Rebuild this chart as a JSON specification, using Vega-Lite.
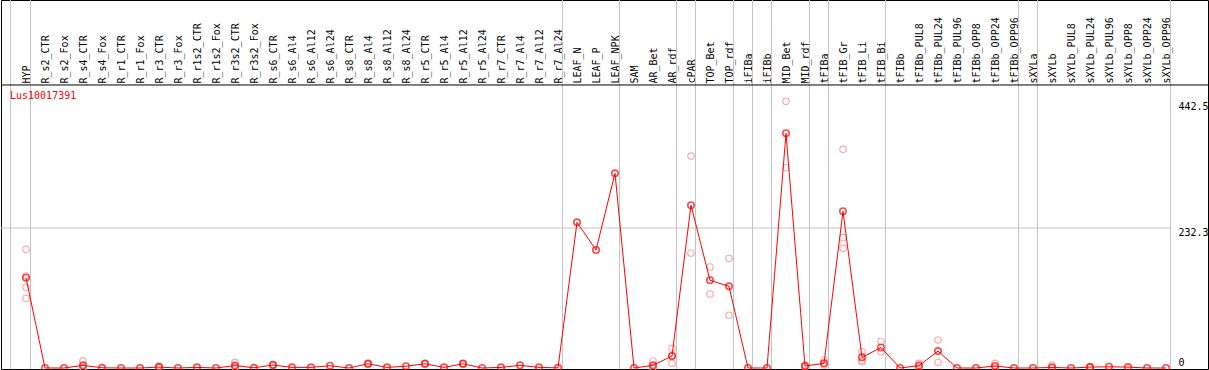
{
  "$schema": "https://vega.github.io/schema/vega-lite/v6.json",
  "width": 1207,
  "height": 369,
  "autosize": {"type": "none"},
  "padding": {"left": 1, "top": 0, "right": 1, "bottom": 1},
  "background": "white",
  "config": {"view": {"stroke": "black", "strokeWidth": 1}, "font": "DejaVu Sans Mono"},
  "datasets": {
    "means": [
      {"c": "HYP", "v": 149.8}, {"c": "R_s2_CTR", "v": 0}, {"c": "R_s2_Fox", "v": 0}, {"c": "R_s4_CTR", "v": 4.4},
      {"c": "R_s4_Fox", "v": 0.3}, {"c": "R_r1_CTR", "v": 0}, {"c": "R_r1_Fox", "v": 0}, {"c": "R_r3_CTR", "v": 1.5},
      {"c": "R_r3_Fox", "v": 0}, {"c": "R_r1s2_CTR", "v": 1}, {"c": "R_r1s2_Fox", "v": 0}, {"c": "R_r3s2_CTR", "v": 4},
      {"c": "R_r3s2_Fox", "v": 0.3}, {"c": "R_s6_CTR", "v": 5}, {"c": "R_s6_Al4", "v": 1}, {"c": "R_s6_Al12", "v": 1},
      {"c": "R_s6_Al24", "v": 3.8}, {"c": "R_s8_CTR", "v": 0}, {"c": "R_s8_Al4", "v": 7}, {"c": "R_s8_Al12", "v": 1},
      {"c": "R_s8_Al24", "v": 3}, {"c": "R_r5_CTR", "v": 7}, {"c": "R_r5_Al4", "v": 1}, {"c": "R_r5_Al12", "v": 7},
      {"c": "R_r5_Al24", "v": 0}, {"c": "R_r7_CTR", "v": 1}, {"c": "R_r7_Al4", "v": 4.4}, {"c": "R_r7_Al12", "v": 1},
      {"c": "R_r7_Al24", "v": 0.3}, {"c": "LEAF_N", "v": 241.7}, {"c": "LEAF_P", "v": 195.8}, {"c": "LEAF_NPK", "v": 323},
      {"c": "SAM", "v": 0}, {"c": "AR_Bet", "v": 4.4}, {"c": "AR_rdf", "v": 20}, {"c": "cPAR", "v": 270},
      {"c": "TOP_Bet", "v": 145.5}, {"c": "TOP_rdf", "v": 135.5}, {"c": "iFIBa", "v": 0}, {"c": "iFIBb", "v": 0},
      {"c": "MID_Bet", "v": 389.4}, {"c": "MID_rdf", "v": 3.3}, {"c": "tFIBa", "v": 7.7}, {"c": "tFIB_Gr", "v": 260},
      {"c": "tFIB_Li", "v": 17.7}, {"c": "tFIB_Bi", "v": 34}, {"c": "tFIBb", "v": 0}, {"c": "tFIBb_PUL8", "v": 3.9},
      {"c": "tFIBb_PUL24", "v": 28}, {"c": "tFIBb_PUL96", "v": 0}, {"c": "tFIBb_OPP8", "v": 0}, {"c": "tFIBb_OPP24", "v": 3.3},
      {"c": "tFIBb_OPP96", "v": 0}, {"c": "sXYLa", "v": 0}, {"c": "sXYLb", "v": 1}, {"c": "sXYLb_PUL8", "v": 0},
      {"c": "sXYLb_PUL24", "v": 1.5}, {"c": "sXYLb_PUL96", "v": 2}, {"c": "sXYLb_OPP8", "v": 1.5}, {"c": "sXYLb_OPP24", "v": 0},
      {"c": "sXYLb_OPP96", "v": 0}
    ],
    "reps": [
      {"c": "HYP", "v": 197}, {"c": "HYP", "v": 152.6}, {"c": "HYP", "v": 134}, {"c": "HYP", "v": 115.6},
      {"c": "R_s4_CTR", "v": 12}, {"c": "R_s4_CTR", "v": 1}, {"c": "R_s4_CTR", "v": 0.3},
      {"c": "R_r3_CTR", "v": 3}, {"c": "R_r3_CTR", "v": 0.5},
      {"c": "R_r3s2_CTR", "v": 9.5}, {"c": "R_r3s2_CTR", "v": 1.5}, {"c": "R_r3s2_CTR", "v": 1},
      {"c": "R_s6_CTR", "v": 6}, {"c": "R_s6_CTR", "v": 4},
      {"c": "R_s8_Al4", "v": 8}, {"c": "R_s8_Al4", "v": 6},
      {"c": "R_r5_CTR", "v": 8}, {"c": "R_r5_CTR", "v": 6},
      {"c": "R_r5_Al12", "v": 8}, {"c": "R_r5_Al12", "v": 6},
      {"c": "AR_Bet", "v": 11.6}, {"c": "AR_Bet", "v": 1}, {"c": "AR_Bet", "v": 0.5},
      {"c": "AR_rdf", "v": 32.6}, {"c": "AR_rdf", "v": 20}, {"c": "AR_rdf", "v": 7.7},
      {"c": "cPAR", "v": 351.7}, {"c": "cPAR", "v": 190.8},
      {"c": "TOP_Bet", "v": 167.6}, {"c": "TOP_Bet", "v": 122.8},
      {"c": "TOP_rdf", "v": 182}, {"c": "TOP_rdf", "v": 87.4},
      {"c": "MID_Bet", "v": 442.5}, {"c": "MID_Bet", "v": 332.3},
      {"c": "MID_rdf", "v": 5}, {"c": "MID_rdf", "v": 2},
      {"c": "tFIBa", "v": 13}, {"c": "tFIBa", "v": 5},
      {"c": "tFIB_Gr", "v": 362.8}, {"c": "tFIB_Gr", "v": 216.2}, {"c": "tFIB_Gr", "v": 198.5},
      {"c": "tFIB_Li", "v": 27}, {"c": "tFIB_Li", "v": 12}, {"c": "tFIB_Li", "v": 10.5},
      {"c": "tFIB_Bi", "v": 44}, {"c": "tFIB_Bi", "v": 27},
      {"c": "tFIBb_PUL8", "v": 7.7}, {"c": "tFIBb_PUL8", "v": 1},
      {"c": "tFIBb_PUL24", "v": 46.5}, {"c": "tFIBb_PUL24", "v": 9.4},
      {"c": "tFIBb_OPP24", "v": 7.7}, {"c": "tFIBb_OPP24", "v": 1},
      {"c": "sXYLb", "v": 5}, {"c": "sXYLb", "v": 0},
      {"c": "sXYLb_PUL24", "v": 2.5}, {"c": "sXYLb_PUL24", "v": 0.5}
    ],
    "bounds": [
      {"c": "HYP"}, {"c": "R_r7_Al24"}, {"c": "LEAF_NPK"}, {"c": "AR_rdf"}, {"c": "cPAR"}, {"c": "TOP_rdf"},
      {"c": "iFIBa"}, {"c": "iFIBb"}, {"c": "MID_rdf"}, {"c": "tFIBa"}, {"c": "tFIB_Bi"}, {"c": "tFIBb_OPP96"},
      {"c": "sXYLa"}, {"c": "sXYLb_OPP96"}
    ],
    "first": [{"c": "HYP"}],
    "header": [{"v": 469.6}],
    "grid": [{"c": "HYP", "c2": "sXYLb_OPP96", "v": 232.3}],
    "label": [{"c": "HYP", "v": 451, "label": "Lus10017391"}]
  },
  "encoding": {
    "x": {
      "field": "c", "type": "nominal", "sort": null,
      "scale": {
        "type": "point", "padding": 0, "range": [25, 1165],
        "domain": ["HYP", "R_s2_CTR", "R_s2_Fox", "R_s4_CTR", "R_s4_Fox", "R_r1_CTR", "R_r1_Fox", "R_r3_CTR", "R_r3_Fox", "R_r1s2_CTR", "R_r1s2_Fox", "R_r3s2_CTR", "R_r3s2_Fox", "R_s6_CTR", "R_s6_Al4", "R_s6_Al12", "R_s6_Al24", "R_s8_CTR", "R_s8_Al4", "R_s8_Al12", "R_s8_Al24", "R_r5_CTR", "R_r5_Al4", "R_r5_Al12", "R_r5_Al24", "R_r7_CTR", "R_r7_Al4", "R_r7_Al12", "R_r7_Al24", "LEAF_N", "LEAF_P", "LEAF_NPK", "SAM", "AR_Bet", "AR_rdf", "cPAR", "TOP_Bet", "TOP_rdf", "iFIBa", "iFIBb", "MID_Bet", "MID_rdf", "tFIBa", "tFIB_Gr", "tFIB_Li", "tFIB_Bi", "tFIBb", "tFIBb_PUL8", "tFIBb_PUL24", "tFIBb_PUL96", "tFIBb_OPP8", "tFIBb_OPP24", "tFIBb_OPP96", "sXYLa", "sXYLb", "sXYLb_PUL8", "sXYLb_PUL24", "sXYLb_PUL96", "sXYLb_OPP8", "sXYLb_OPP24", "sXYLb_OPP96"]
      },
      "axis": {
        "orient": "top", "offset": -85, "title": null, "labelAngle": -90, "labelAlign": "left", "labelBaseline": "middle",
        "labelPadding": 2, "ticks": false, "tickSize": 0, "domain": false,
        "labelFont": "DejaVu Sans Mono", "labelFontSize": 10, "labelColor": "black", "labelOverlap": false,
        "labelBound": false, "grid": false
      }
    },
    "y": {
      "field": "v", "type": "quantitative",
      "scale": {"domain": [-1.66, 610.6], "nice": false, "zero": false},
      "axis": {
        "orient": "right", "offset": -37, "title": null, "values": [0, 232.3, 442.5], "labelExpr": "'' + datum.value",
        "grid": false, "domain": false, "ticks": false, "tickSize": 0, "labelPadding": 7,
        "labelFont": "DejaVu Sans Mono", "labelFontSize": 10, "labelColor": "black", "labelFlush": false, "labelBound": false,
        "labelBaseline": {"condition": {"test": "datum.value == 0", "value": "bottom"}, "value": "top"}
      }
    }
  },
  "layer": [
    {
      "data": {"name": "bounds"},
      "mark": {"type": "rule", "color": "#c4c4c4", "strokeWidth": 1, "xOffset": 4.5},
      "encoding": {"y": null}
    },
    {
      "data": {"name": "first"},
      "mark": {"type": "rule", "color": "#c4c4c4", "strokeWidth": 1, "xOffset": -15.5},
      "encoding": {"y": null}
    },
    {
      "data": {"name": "header"},
      "mark": {"type": "rule", "color": "black", "strokeWidth": 1},
      "encoding": {"x": null}
    },
    {
      "data": {"name": "grid"},
      "mark": {"type": "rule", "color": "#c4c4c4", "strokeWidth": 1, "xOffset": -25, "x2Offset": 4.5},
      "encoding": {"x2": {"field": "c2"}}
    },
    {
      "data": {"name": "reps"},
      "mark": {"type": "point", "shape": "circle", "filled": false, "size": 42, "stroke": "#f08c8c", "strokeWidth": 1.2}
    },
    {
      "data": {"name": "means"},
      "mark": {"type": "line", "color": "#ff0000", "strokeWidth": 1}
    },
    {
      "data": {"name": "means"},
      "mark": {"type": "point", "shape": "circle", "filled": false, "size": 42, "stroke": "#ff0000", "strokeWidth": 1.6}
    },
    {
      "data": {"name": "label"},
      "mark": {"type": "text", "color": "#ff0000", "align": "left", "baseline": "middle", "font": "DejaVu Sans Mono", "fontSize": 10, "xOffset": -16},
      "encoding": {"text": {"field": "label"}}
    }
  ]
}
